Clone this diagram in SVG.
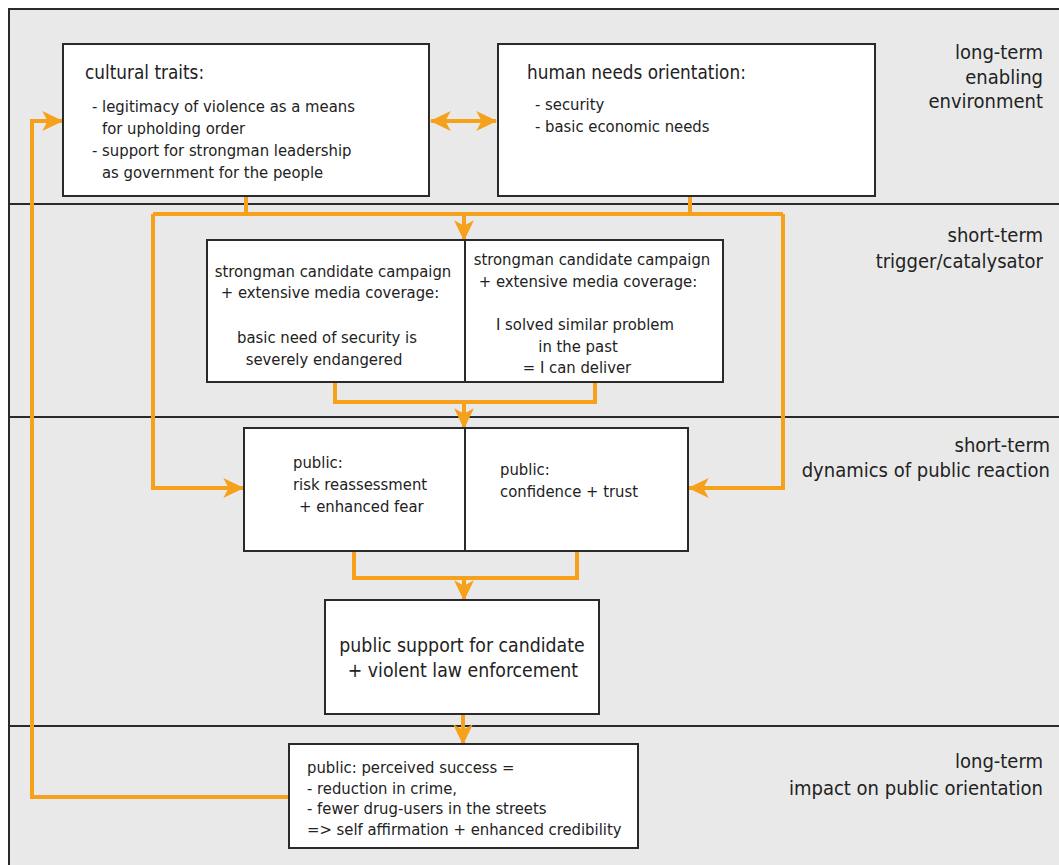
<svg xmlns="http://www.w3.org/2000/svg" width="1059" height="865" viewBox="0 0 1059 865">
<style>
.band{fill:#e9e9e9;stroke:#2a2a2a;stroke-width:2}
.box{fill:#ffffff;stroke:#2a2a2a;stroke-width:2}
.t{font-family:"DejaVu Sans Condensed","DejaVu Sans",sans-serif;fill:#222}
.h{font-size:18.8px}
.b{font-size:16.5px}
.l{font-size:20px;text-anchor:end}
.c{text-anchor:middle}
.con{fill:none;stroke:#f5a11c;stroke-width:4;stroke-linejoin:miter}
</style>
<defs>
<marker id="ah" markerUnits="userSpaceOnUse" markerWidth="22" markerHeight="22" viewBox="0 0 20 20" refX="18" refY="10" orient="auto-start-reverse">
<path d="M0,1 L19,10 L0,19 L5,10 z" fill="#f5a11c"/>
</marker>
</defs>
<rect x="0" y="0" width="1059" height="865" fill="#ffffff"/>
<g id="bands">
<rect class="band" x="9" y="9" width="1060" height="195"/>
<rect class="band" x="9" y="204" width="1060" height="213"/>
<rect class="band" x="9" y="417" width="1060" height="309"/>
<rect class="band" x="9" y="726" width="1060" height="150"/>
</g>
<g id="band-labels">
<text class="t l" x="1043" y="59">long-term</text>
<text class="t l" x="1043" y="84">enabling</text>
<text class="t l" x="1043" y="108">environment</text>
<text class="t l" x="1043" y="242">short-term</text>
<text class="t l" x="1043" y="268">trigger/catalysator</text>
<text class="t l" x="1050" y="452">short-term</text>
<text class="t l" x="1050" y="477">dynamics of public reaction</text>
<text class="t l" x="1043" y="768">long-term</text>
<text class="t l" x="1043" y="795">impact on public orientation</text>
</g>
<g id="connectors">
<path class="con" d="M289,797 H32 V121 H62" marker-end="url(#ah)"/>
<path class="con" d="M431,121 H496" marker-start="url(#ah)" marker-end="url(#ah)"/>
<path class="con" d="M246,196 V214 M690,196 V214 M153,214 H783"/>
<path class="con" d="M153,214 V488 H243" marker-end="url(#ah)"/>
<path class="con" d="M783,214 V488 H689" marker-end="url(#ah)"/>
<path class="con" d="M464,214 V240" marker-end="url(#ah)"/>
<path class="con" d="M335,382 V402 H595 V382"/>
<path class="con" d="M464,402 V428" marker-end="url(#ah)"/>
<path class="con" d="M354,551 V578 H577 V551"/>
<path class="con" d="M464,578 V600" marker-end="url(#ah)"/>
<path class="con" d="M463,714 V744" marker-end="url(#ah)"/>
</g>
<g id="cultural-traits">
<rect class="box" x="63" y="44" width="366" height="152"/>
<text class="t h" x="85" y="79">cultural traits:</text>
<text class="t b" x="92" y="112">- legitimacy of violence as a means</text>
<text class="t b" x="102" y="134">for upholding order</text>
<text class="t b" x="92" y="156">- support for strongman leadership</text>
<text class="t b" x="102" y="178">as government for the people</text>
</g>
<g id="human-needs">
<rect class="box" x="498" y="44" width="377" height="152"/>
<text class="t h" x="527" y="79">human needs orientation:</text>
<text class="t b" x="535" y="110">- security</text>
<text class="t b" x="535" y="132">- basic economic needs</text>
</g>
<g id="trigger-security">
<rect class="box" x="207" y="240" width="258" height="142"/>
<text class="t b c" x="333" y="277">strongman candidate campaign</text>
<text class="t b c" x="330" y="298">+ extensive media coverage:</text>
<text class="t b c" x="327" y="343">basic need of security is</text>
<text class="t b c" x="324" y="365">severely endangered</text>
</g>
<g id="trigger-deliver">
<rect class="box" x="465" y="240" width="258" height="142"/>
<text class="t b c" x="592" y="265">strongman candidate campaign</text>
<text class="t b c" x="588" y="287">+ extensive media coverage:</text>
<text class="t b c" x="585" y="330">I solved similar problem</text>
<text class="t b c" x="578" y="352">in the past</text>
<text class="t b c" x="577" y="373">= I can deliver</text>
</g>
<g id="public-fear">
<rect class="box" x="244" y="428" width="221" height="123"/>
<text class="t b" x="293" y="468">public:</text>
<text class="t b" x="293" y="490">risk reassessment</text>
<text class="t b" x="299" y="512">+ enhanced fear</text>
</g>
<g id="public-trust">
<rect class="box" x="465" y="428" width="223" height="123"/>
<text class="t b" x="500" y="475">public:</text>
<text class="t b" x="500" y="497">confidence + trust</text>
</g>
<g id="public-support">
<rect class="box" x="325" y="600" width="274" height="114"/>
<text class="t c" style="font-size:19.3px" x="462" y="652">public support for candidate</text>
<text class="t c" style="font-size:19.3px" x="463" y="677">+ violent law enforcement</text>
</g>
<g id="perceived-success">
<rect class="box" x="289" y="744" width="349" height="104"/>
<text class="t b" x="307" y="773">public: perceived success =</text>
<text class="t b" x="307" y="794">- reduction in crime,</text>
<text class="t b" x="307" y="814">- fewer drug-users in the streets</text>
<text class="t b" x="307" y="835">=&gt; self affirmation + enhanced credibility</text>
</g>
</svg>
